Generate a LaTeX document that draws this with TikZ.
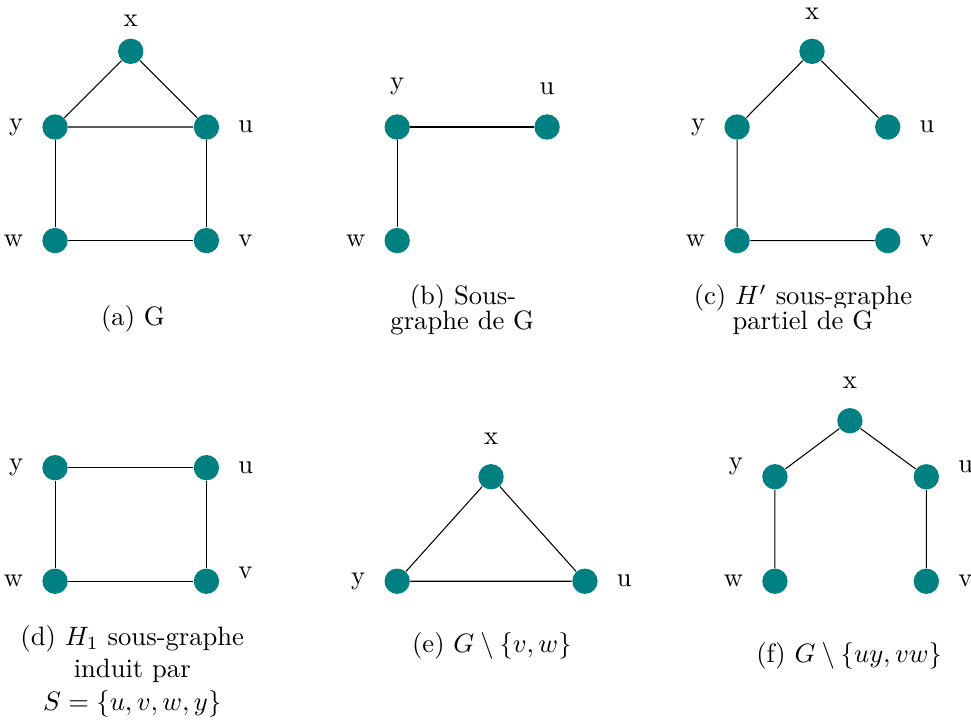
\documentclass[tikz,border=0pt]{standalone}
\usepackage{tikz}
\usepackage{xcolor}

\begin{document}
\begin{tikzpicture}[
  vertex/.style={circle, fill=teal, inner sep=0pt, minimum size=0.335cm},
  label distance=3.5pt,
  capline/.style={anchor=base, inner sep=0pt},
  capcut/.style={anchor=base, inner xsep=0pt, inner ysep=1pt, fill=white}
]
\useasboundingbox (-0.727,-7.926) rectangle (12.10,1.678);

% (a) G
\node[vertex, label={[label distance=0.7pt]above:x}] (ax) at (1,1) {};
\node[vertex, label=left:y] (ay) at (0,0) {};
\node[vertex, label=right:u] (au) at (2,0) {};
\node[vertex, label=left:w] (aw) at (0,-1.5) {};
\node[vertex, label=right:v] (av) at (2,-1.5) {};
\draw (ax) -- (ay) (ax) -- (au) (ay) -- (au);
\draw (ay) -- (aw) (au) -- (av) (aw) -- (av);
\node[capline] (capa) at (1.03,-2.616) {(a) G};

% (b) Sous-graphe
\node[vertex, label=above:y] (by) at (4.52,0) {};
\node[vertex, label=above:u] (bu) at (6.5,0) {};
\node[vertex, label=left:w] (bw) at (4.52,-1.5) {};
\draw (by) -- (bu) (by) -- (bw);
\node[capline] (capb1) at (5.39,-2.351) {(b) Sous-};
\node[capcut] (capb2) at (5.38,-2.67) {graphe de G};

% (c) H' sous-graphe partiel
\node[vertex, label=above:x] (cx) at (10,1) {};
\node[vertex, label=left:y] (cy) at (9.01,0) {};
\node[vertex, label=right:u] (cu) at (11,0) {};
\node[vertex, label=left:w] (cw) at (9.01,-1.5) {};
\node[vertex, label=right:v] (cv) at (11,-1.5) {};
\draw (cx) -- (cy) (cx) -- (cu) (cy) -- (cw) (cw) -- (cv);
\node[capline] (capc1) at (9.88,-2.351) {(c) $H'$ sous-graphe};
\node[capcut] (capc2) at (9.88,-2.67) {partiel de G};

% (d) H_1 sous-graphe induit
\node[vertex, label=left:y] (dy) at (0,-4.5) {};
\node[vertex, label=right:u] (du) at (2,-4.5) {};
\node[vertex, label=left:w] (dw) at (0,-6) {};
\node[vertex, label={[yshift=3pt]right:v}] (dv) at (2,-6) {};
\draw (dy) -- (du) (dy) -- (dw) (du) -- (dv) (dw) -- (dv);
\node[capline] (capd1) at (1.02,-6.843) {(d) $H_1$ sous-graphe};
\node[capline] (capd2) at (1.02,-7.266) {induit par};
\node[capline] (capd3) at (1.02,-7.702) {$S=\{u,v,w,y\}$};

% (e) G minus {v,w}
\node[vertex, label=above:x] (ex) at (5.76,-4.62) {};
\node[vertex, label=left:y] (ey) at (4.52,-6) {};
\node[vertex, label=right:u] (eu) at (7,-6) {};
\draw (ex) -- (ey) (ex) -- (eu) (ey) -- (eu);
\node[capline] (cape) at (5.77,-6.935) {(e) $G\setminus\{v,w\}$};

% (f) G minus {uy,vw}
\node[vertex, label=above:x] (fx) at (10.5,-3.88) {};
\node[vertex, label={[yshift=3.8pt]left:y}] (fy) at (9.51,-4.62) {};
\node[vertex, label={[yshift=3.8pt]right:u}] (fu) at (11.51,-4.62) {};
\node[vertex, label=left:w] (fw) at (9.51,-6) {};
\node[vertex, label=right:v] (fv) at (11.51,-6) {};
\draw (fx) -- (fy) (fx) -- (fu) (fy) -- (fw) (fu) -- (fv);
\node[capline] (capf) at (10.49,-7.067) {(f) $G\setminus\{uy,vw\}$};

\end{tikzpicture}
\end{document}
